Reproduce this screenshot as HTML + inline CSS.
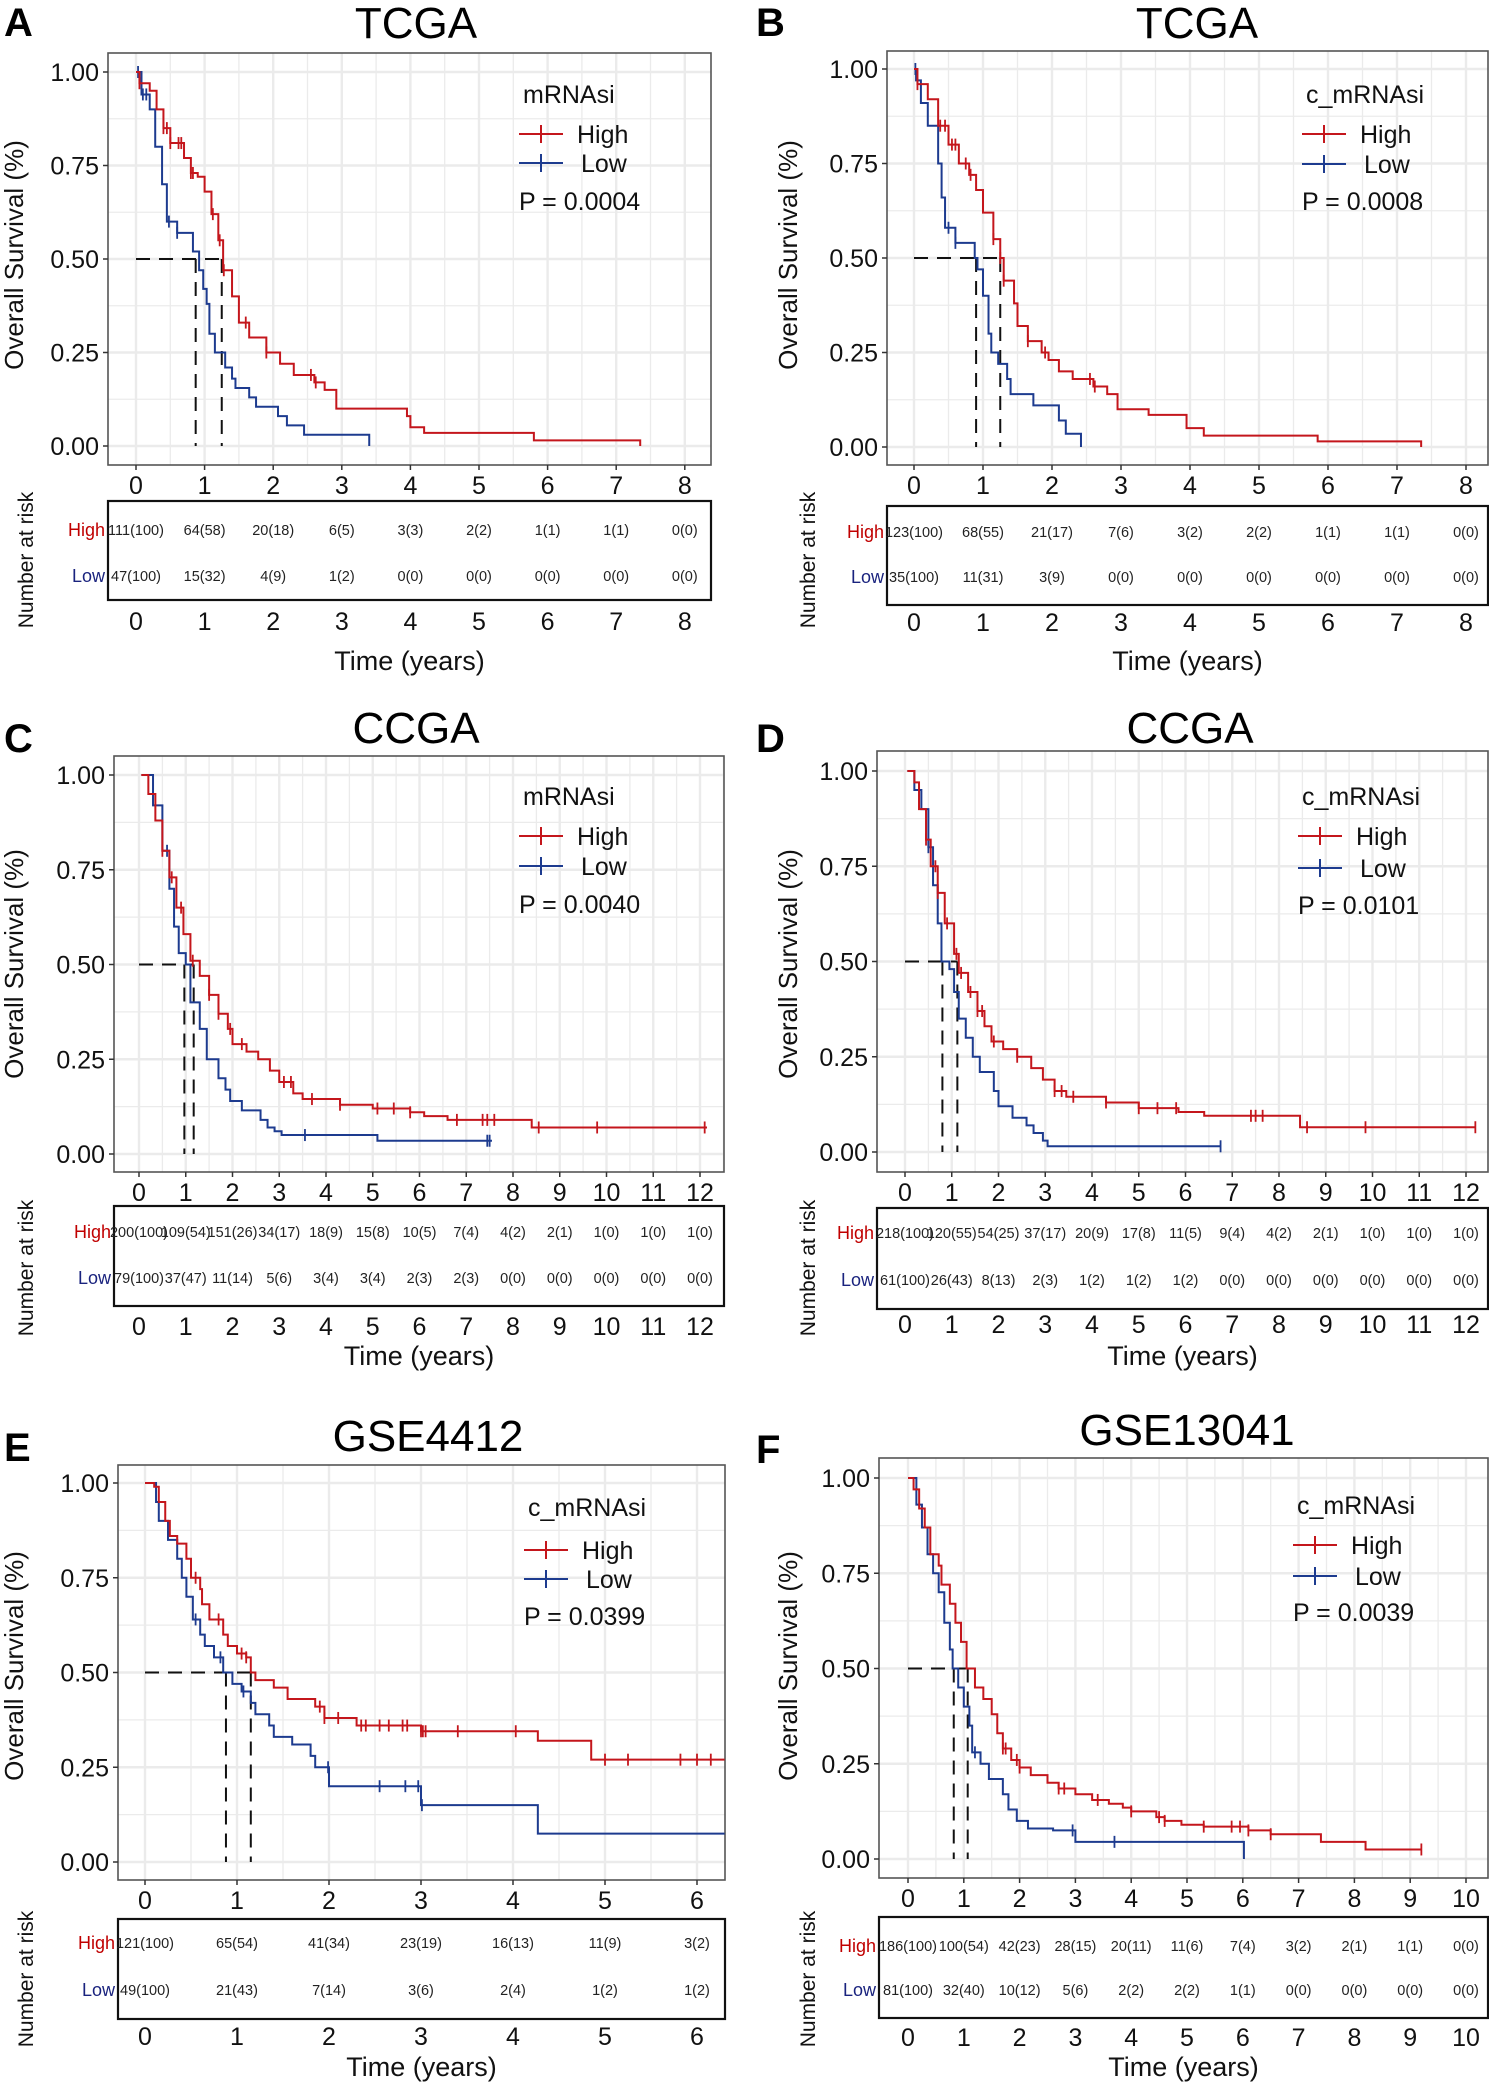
<!DOCTYPE html>
<html><head><meta charset="utf-8">
<style>
html,body{margin:0;padding:0;background:#fff;}
svg{display:block;font-family:"Liberation Sans",Arial,sans-serif;}
</style></head>
<body>
<svg id="fig" width="1489" height="2084" viewBox="0 0 1489 2084" xmlns="http://www.w3.org/2000/svg"></svg>
<script>
// ===== Panel A data (TCGA mRNAsi)
const aHighT=[0,0.05,0.2,0.3,0.4,0.5,0.7,0.8,0.9,1.0,1.1,1.2,1.27,1.4,1.5,1.65,1.9,2.1,2.3,2.6,2.75,2.92,3.95,4.0,4.2,5.8,7.35];
const aHighS=[1,0.97,0.95,0.9,0.85,0.81,0.77,0.73,0.72,0.68,0.62,0.55,0.47,0.4,0.33,0.29,0.25,0.22,0.19,0.17,0.15,0.10,0.08,0.05,0.035,0.015,0];
const aLowT=[0,0.08,0.2,0.28,0.38,0.45,0.6,0.83,0.92,0.98,1.03,1.07,1.15,1.3,1.4,1.45,1.65,1.75,2.07,2.2,2.45,3.4];
const aLowS=[1,0.94,0.9,0.8,0.7,0.6,0.57,0.52,0.47,0.42,0.38,0.3,0.25,0.21,0.18,0.155,0.13,0.105,0.08,0.055,0.03,0];
const aHighC=[0.05,0.4,0.45,0.5,0.62,0.66,0.8,0.83,1.12,1.22,1.28,1.6,1.9,2.55,2.62];
const aLowC=[0.03,0.1,0.15,0.48,0.6];
const aMedian=[0.87,1.25];
const aRiskHigh=["111(100)","64(58)","20(18)","6(5)","3(3)","2(2)","1(1)","1(1)","0(0)"];
const aRiskLow=["47(100)","15(32)","4(9)","1(2)","0(0)","0(0)","0(0)","0(0)","0(0)"];
// ===== Panel B data (TCGA c_mRNAsi)
const bHighT=[0,0.05,0.2,0.35,0.5,0.65,0.8,0.9,1.0,1.15,1.25,1.3,1.45,1.5,1.65,1.85,1.95,2.1,2.3,2.6,2.8,2.95,3.4,3.95,4.2,5.85,7.35];
const bHighS=[1,0.96,0.92,0.85,0.8,0.75,0.72,0.68,0.62,0.55,0.5,0.44,0.38,0.32,0.28,0.25,0.23,0.2,0.18,0.16,0.14,0.1,0.085,0.05,0.03,0.015,0];
const bLowT=[0,0.03,0.1,0.2,0.35,0.4,0.45,0.6,0.88,0.92,1.0,1.08,1.12,1.22,1.35,1.4,1.73,2.1,2.2,2.42];
const bLowS=[1,0.97,0.91,0.85,0.75,0.66,0.58,0.54,0.5,0.47,0.4,0.3,0.25,0.22,0.18,0.14,0.11,0.07,0.035,0];
const bHighC=[0.05,0.38,0.45,0.55,0.6,0.75,0.82,1.15,1.25,1.3,1.65,1.9,2.55,2.62];
const bLowC=[0.02,0.5,0.6];
const bMedian=[0.9,1.25];
const bRiskHigh=["123(100)","68(55)","21(17)","7(6)","3(2)","2(2)","1(1)","1(1)","0(0)"];
const bRiskLow=["35(100)","11(31)","3(9)","0(0)","0(0)","0(0)","0(0)","0(0)","0(0)"];
// ===== Panel C data (CCGA mRNAsi)
const cHighT=[0.05,0.2,0.35,0.5,0.65,0.8,0.95,1.1,1.3,1.5,1.7,1.9,2.0,2.3,2.55,2.8,3.0,3.3,3.5,4.3,5.0,5.8,6.1,6.6,8.4,12.15];
const cHighS=[1,0.95,0.88,0.8,0.73,0.65,0.58,0.51,0.47,0.42,0.37,0.33,0.29,0.27,0.25,0.22,0.19,0.16,0.145,0.13,0.12,0.11,0.1,0.09,0.07,0.07];
const cLowT=[0.05,0.3,0.5,0.65,0.75,0.85,1.0,1.1,1.3,1.45,1.7,1.85,1.95,2.2,2.6,2.75,2.9,3.05,5.1,7.55];
const cLowS=[1,0.92,0.8,0.7,0.6,0.53,0.5,0.4,0.33,0.25,0.2,0.17,0.14,0.115,0.09,0.07,0.06,0.05,0.035,0.035];
const cHighC=[0.5,0.7,0.9,1.15,1.5,1.7,1.95,2.2,3.1,3.25,3.7,4.3,5.1,5.45,5.8,6.8,7.35,7.45,7.6,8.55,9.8,12.1];
const cLowC=[0.6,3.55,7.45,7.5];
const cMedian=[0.97,1.17];
const cRiskHigh=["200(100)","109(54)","151(26)","34(17)","18(9)","15(8)","10(5)","7(4)","4(2)","2(1)","1(0)","1(0)","1(0)"];
const cRiskLow=["79(100)","37(47)","11(14)","5(6)","3(4)","3(4)","2(3)","2(3)","0(0)","0(0)","0(0)","0(0)","0(0)"];
// ===== Panel D data (CCGA c_mRNAsi)
const dHighT=[0.05,0.2,0.3,0.45,0.55,0.7,0.85,1.05,1.15,1.35,1.55,1.7,1.85,2.1,2.4,2.7,2.95,3.2,3.45,4.3,5.0,5.85,6.4,8.45,12.2];
const dHighS=[1,0.97,0.9,0.82,0.75,0.68,0.6,0.52,0.47,0.42,0.37,0.33,0.29,0.27,0.25,0.22,0.19,0.16,0.145,0.13,0.115,0.105,0.095,0.065,0.065];
const dLowT=[0.05,0.2,0.35,0.5,0.6,0.7,0.78,0.95,1.05,1.15,1.3,1.45,1.6,1.9,2.0,2.3,2.6,2.75,2.95,3.05,6.75];
const dLowS=[1,0.95,0.9,0.8,0.7,0.6,0.5,0.48,0.42,0.35,0.3,0.25,0.21,0.16,0.12,0.09,0.07,0.05,0.03,0.015,0.015];
const dHighC=[0.45,0.65,0.7,0.9,1.1,1.2,1.4,1.55,1.65,1.9,2.4,3.2,3.35,3.6,4.3,5.0,5.4,5.8,7.4,7.5,7.65,8.6,9.85,12.2];
const dLowC=[0.5,6.75];
const dMedian=[0.8,1.12];
const dRiskHigh=["218(100)","120(55)","54(25)","37(17)","20(9)","17(8)","11(5)","9(4)","4(2)","2(1)","1(0)","1(0)","1(0)"];
const dRiskLow=["61(100)","26(43)","8(13)","2(3)","1(2)","1(2)","1(2)","0(0)","0(0)","0(0)","0(0)","0(0)","0(0)"];
// ===== Panel E data (GSE4412 c_mRNAsi)
const eHighT=[0,0.1,0.15,0.22,0.27,0.35,0.45,0.5,0.6,0.62,0.7,0.85,0.9,1.0,1.1,1.15,1.2,1.4,1.55,1.85,1.95,2.3,3.0,4.27,4.85,6.3];
const eHighS=[1,0.99,0.95,0.9,0.86,0.84,0.8,0.75,0.72,0.68,0.64,0.6,0.57,0.55,0.54,0.5,0.48,0.46,0.43,0.41,0.38,0.36,0.345,0.32,0.27,0.27];
const eLowT=[0,0.12,0.15,0.25,0.35,0.4,0.45,0.52,0.6,0.65,0.75,0.85,0.95,1.05,1.15,1.2,1.35,1.4,1.6,1.8,1.85,2.0,3.0,4.27,6.3];
const eLowS=[1,0.95,0.9,0.85,0.8,0.75,0.7,0.64,0.6,0.57,0.54,0.5,0.47,0.45,0.42,0.39,0.36,0.33,0.31,0.28,0.25,0.2,0.15,0.075,0.075];
const eHighC=[0.55,0.8,1.05,1.1,1.9,1.95,2.1,2.35,2.4,2.55,2.65,2.8,2.85,3.0,3.02,3.05,3.4,4.03,5.0,5.25,5.82,6.0,6.15];
const eLowC=[0.55,0.82,1.07,1.99,2.55,2.83,2.97,3.01];
const eMedian=[0.88,1.15];
const eRiskHigh=["121(100)","65(54)","41(34)","23(19)","16(13)","11(9)","3(2)"];
const eRiskLow=["49(100)","21(43)","7(14)","3(6)","2(4)","1(2)","1(2)"];
// ===== Panel F data (GSE13041 c_mRNAsi)
const fHighT=[0,0.1,0.2,0.3,0.4,0.55,0.6,0.75,0.85,0.95,1.05,1.2,1.35,1.5,1.6,1.7,1.85,2.0,2.2,2.5,2.7,3.0,3.3,3.6,3.85,4.0,4.45,4.6,4.9,5.3,6.1,6.5,7.4,8.2,9.2];
const fHighS=[1,0.97,0.92,0.87,0.8,0.77,0.72,0.67,0.62,0.57,0.5,0.45,0.42,0.38,0.33,0.29,0.26,0.24,0.22,0.2,0.185,0.17,0.155,0.145,0.135,0.125,0.11,0.1,0.09,0.085,0.075,0.065,0.045,0.025,0.025];
const fLowT=[0,0.15,0.25,0.35,0.45,0.55,0.65,0.75,0.8,0.9,1.0,1.1,1.15,1.3,1.45,1.7,1.8,1.95,2.15,2.6,3.0,6.0,6.02];
const fLowS=[1,0.93,0.87,0.8,0.75,0.7,0.62,0.55,0.5,0.45,0.4,0.35,0.28,0.25,0.21,0.17,0.13,0.1,0.08,0.075,0.045,0.045,0];
const fHighC=[1.7,1.75,1.95,2.0,2.7,2.8,3.4,4.0,4.5,4.6,5.3,5.8,5.95,6.1,6.5,9.2];
const fLowC=[1.2,2.95,3.7];
const fMedian=[0.82,1.07];
const fRiskHigh=["186(100)","100(54)","42(23)","28(15)","20(11)","11(6)","7(4)","3(2)","2(1)","1(1)","0(0)"];
const fRiskLow=["81(100)","32(40)","10(12)","5(6)","2(2)","2(2)","1(1)","0(0)","0(0)","0(0)","0(0)"];

const RED="#c4161c", BLUE="#1d3b8f";
const svg=document.getElementById('fig');
const NS="http://www.w3.org/2000/svg";
function el(tag,attrs,parent){const e=document.createElementNS(NS,tag);for(const k in attrs)e.setAttribute(k,attrs[k]);(parent||svg).appendChild(e);return e;}
function txt(s,attrs,parent){const e=el('text',attrs,parent);e.textContent=s;return e;}

const panels=[
 {id:'a',letter:'A',title:'TCGA',leg:'mRNAsi',p:'P = 0.0004',hT:aHighT,hS:aHighS,lT:aLowT,lS:aLowS,hC:aHighC,lC:aLowC,med:aMedian,rH:aRiskHigh,rL:aRiskLow,
  box:[108,53,711,465],x0:136,xpx:68.6,xmax:8,y1:72,y0:446,risk:[108,501,711,600],rows:[530,576],tickY:621,timeY:660,titleX:416,titleY:22,letX:4,letY:22,legX:519,legY:[94,134,163,201],yTitleX:14,yTitleY:255,narX:26,narY:560},
 {id:'b',letter:'B',title:'TCGA',leg:'c_mRNAsi',p:'P = 0.0008',hT:bHighT,hS:bHighS,lT:bLowT,lS:bLowS,hC:bHighC,lC:bLowC,med:bMedian,rH:bRiskHigh,rL:bRiskLow,
  box:[887,51,1488,465],x0:914,xpx:69,xmax:8.4,y1:69,y0:447,risk:[887,506,1488,605],rows:[532,577],tickY:622,timeY:660,titleX:1197,titleY:22,letX:756,letY:22,legX:1302,legY:[94,134,164,201],yTitleX:788,yTitleY:255,narX:808,narY:560},
 {id:'c',letter:'C',title:'CCGA',leg:'mRNAsi',p:'P = 0.0040',hT:cHighT,hS:cHighS,lT:cLowT,lS:cLowS,hC:cHighC,lC:cLowC,med:cMedian,rH:cRiskHigh,rL:cRiskLow,
  box:[114,756,724,1172],x0:139,xpx:46.75,xmax:12.6,y1:775,y0:1154,risk:[114,1206,724,1306],rows:[1232,1278],tickY:1326,timeY:1355,titleX:416,titleY:727,letX:4,letY:738,legX:519,legY:[796,836,866,904],yTitleX:14,yTitleY:964,narX:26,narY:1268},
 {id:'d',letter:'D',title:'CCGA',leg:'c_mRNAsi',p:'P = 0.0101',hT:dHighT,hS:dHighS,lT:dLowT,lS:dLowS,hC:dHighC,lC:dLowC,med:dMedian,rH:dRiskHigh,rL:dRiskLow,
  box:[877,751,1488,1172],x0:905,xpx:46.75,xmax:12.6,y1:771,y0:1152,risk:[877,1208,1488,1309],rows:[1233,1280],tickY:1324,timeY:1355,titleX:1190,titleY:727,letX:756,letY:738,legX:1298,legY:[796,836,868,905],yTitleX:788,yTitleY:964,narX:808,narY:1268},
 {id:'e',letter:'E',title:'GSE4412',leg:'c_mRNAsi',p:'P = 0.0399',hT:eHighT,hS:eHighS,lT:eLowT,lS:eLowS,hC:eHighC,lC:eLowC,med:eMedian,rH:eRiskHigh,rL:eRiskLow,
  box:[118,1465,725,1880],x0:145,xpx:92,xmax:6.3,y1:1483,y0:1862,risk:[118,1919,725,2019],rows:[1943,1990],tickY:2036,timeY:2066,titleX:428,titleY:1435,letX:4,letY:1447,legX:524,legY:[1507,1550,1579,1616],yTitleX:14,yTitleY:1666,narX:26,narY:1979},
 {id:'f',letter:'F',title:'GSE13041',leg:'c_mRNAsi',p:'P = 0.0039',hT:fHighT,hS:fHighS,lT:fLowT,lS:fLowS,hC:fHighC,lC:fLowC,med:fMedian,rH:fRiskHigh,rL:fRiskLow,
  box:[879,1458,1488,1878],x0:908,xpx:55.8,xmax:10.4,y1:1478,y0:1859,risk:[879,1917,1488,2018],rows:[1946,1990],tickY:2037,timeY:2066,titleX:1187,titleY:1429,letX:756,letY:1449,legX:1293,legY:[1505,1545,1576,1612],yTitleX:788,yTitleY:1666,narX:808,narY:1979}
];

function stepAt(T,S,t){let v=S[0];for(let i=0;i<T.length;i++){if(T[i]<=t)v=S[i];}return v;}

panels.forEach(P=>{
  const g=el('g',{});
  
  
  const X=t=>P.x0+t*P.xpx, Y=s=>P.y0-(P.y0-P.y1)*s;
  const [bl,bt,br,bb]=P.box;
  // letter & title
  const L=txt(P.letter,{x:P.letX,y:P.letY+14,'font-size':40,'font-weight':'bold',fill:'#000'},g);
   
  const T=txt(P.title,{x:P.titleX,y:P.titleY+16,'font-size':44,'text-anchor':'middle',fill:'#000'},g);
   
  // grid
  const grid=el('g',{},g);
   
  for(let s=0;s<=1.0001;s+=0.125){const maj=Math.abs(s*4-Math.round(s*4))<1e-6;el('line',{x1:bl,x2:br,y1:Y(s),y2:Y(s),stroke:'#ebebeb','stroke-width':maj?2.4:1.3},grid);}
  for(let t=0;X(t)<br;t+=0.5){const maj=Math.abs(t-Math.round(t))<1e-6;el('line',{x1:X(t),x2:X(t),y1:bt,y2:bb,stroke:'#ebebeb','stroke-width':maj?2.4:1.3},grid);}
  const frame=el('rect',{x:bl,y:bt,width:br-bl,height:bb-bt,fill:'none',stroke:'#555','stroke-width':1.6},g);
   
  // y ticks
  [0,0.25,0.5,0.75,1].forEach(s=>{
    el('line',{x1:bl-5,x2:bl,y1:Y(s),y2:Y(s),stroke:'#333','stroke-width':1.5},g);
    const e=txt(s.toFixed(2),{x:bl-9,y:Y(s)+9,'font-size':25,'text-anchor':'end',fill:'#111'},g);
     
  });
  const maxT=Math.floor(P.xmax);
  for(let t=0;t<=maxT;t++){
    el('line',{x1:X(t),x2:X(t),y1:bb,y2:bb+5,stroke:'#333','stroke-width':1.5},g);
    const e=txt(String(t),{x:X(t),y:bb+29,'font-size':25,'text-anchor':'middle',fill:'#111'},g);
     
  }
  const yt=txt('Overall Survival (%)',{x:P.yTitleX,y:P.yTitleY,'font-size':26,'text-anchor':'middle',transform:`rotate(-90 ${P.yTitleX} ${P.yTitleY}) translate(0 9)`,fill:'#111'},g);
   
  // median dashed lines
  const md=el('g',{},g);
   
  const mx=Math.max(...P.med);
  el('line',{x1:X(0),x2:X(mx),y1:Y(0.5),y2:Y(0.5),stroke:'#111','stroke-width':2,'stroke-dasharray':'14,9'},md);
  P.med.forEach(m=>el('line',{x1:X(m),x2:X(m),y1:Y(0.5),y2:Y(0),stroke:'#111','stroke-width':2,'stroke-dasharray':'14,9'},md));
  // curves
  function curve(Ts,Ss,Cs,col,name){
    let d=`M${X(Ts[0])},${Y(Ss[0])}`;
    for(let i=1;i<Ts.length;i++){d+=` H${X(Ts[i])} V${Y(Ss[i])}`;}
    const p=el('path',{d:d,fill:'none',stroke:col,'stroke-width':2},g);
     
    Cs.forEach(c=>{const s=stepAt(Ts,Ss,c);const m=el('line',{x1:X(c),x2:X(c),y1:Y(s)-6,y2:Y(s)+6,stroke:col,'stroke-width':1.8},g);
       });
  }
  curve(P.lT,P.lS,P.lC,BLUE,'low');
  curve(P.hT,P.hS,P.hC,RED,'high');
  // legend
  const lg=el('g',{},g);
   
  const lx=P.legX,[ly0,ly1,ly2,ly3]=P.legY;
  txt(P.leg,{x:lx+4,y:ly0+9,'font-size':25,fill:'#111'},lg);
  [[ly1,RED,'High'],[ly2,BLUE,'Low']].forEach(([yy,c,n])=>{
    el('line',{x1:lx,x2:lx+44,y1:yy,y2:yy,stroke:c,'stroke-width':2},lg);
    el('line',{x1:lx+22,x2:lx+22,y1:yy-9,y2:yy+9,stroke:c,'stroke-width':2},lg);
    const e=txt(n,{x:lx+(n==='High'?58:62),y:yy+9,'font-size':25,fill:'#111'},lg);
     
  });
  const pv=txt(P.p,{x:lx,y:ly3+9,'font-size':25,fill:'#111'},g);
   
  // risk table
  const [rl,rt,rr,rb]=P.risk;
  const rt_=el('g',{},g);
   
  el('rect',{x:rl,y:rt,width:rr-rl,height:rb-rt,fill:'none',stroke:'#111','stroke-width':2.2},rt_);
  txt('High',{x:rl-3,y:P.rows[0]+6,'font-size':18,'text-anchor':'end',fill:'#c00000'},rt_);
  txt('Low',{x:rl-3,y:P.rows[1]+6,'font-size':18,'text-anchor':'end',fill:'#1a237e'},rt_);
  P.rH.forEach((s,i)=>{const e=txt(s,{x:X(i),y:P.rows[0]+5,'font-size':14.5,'text-anchor':'middle',fill:'#222'},rt_);
     });
  P.rL.forEach((s,i)=>{const e=txt(s,{x:X(i),y:P.rows[1]+5,'font-size':14.5,'text-anchor':'middle',fill:'#222'},rt_);
     });
  for(let t=0;t<=maxT;t++){txt(String(t),{x:X(t),y:P.tickY+9,'font-size':25,'text-anchor':'middle',fill:'#111'},rt_);}
  const nar=txt('Number at risk',{x:P.narX,y:P.narY,'font-size':21,'text-anchor':'middle',transform:`rotate(-90 ${P.narX} ${P.narY}) translate(0 7)`,fill:'#111'},g);
   
  const tl=txt('Time (years)',{x:(bl+br)/2,y:P.timeY+10,'font-size':27,'text-anchor':'middle',fill:'#111'},g);
   
});
</script>
</body></html>
